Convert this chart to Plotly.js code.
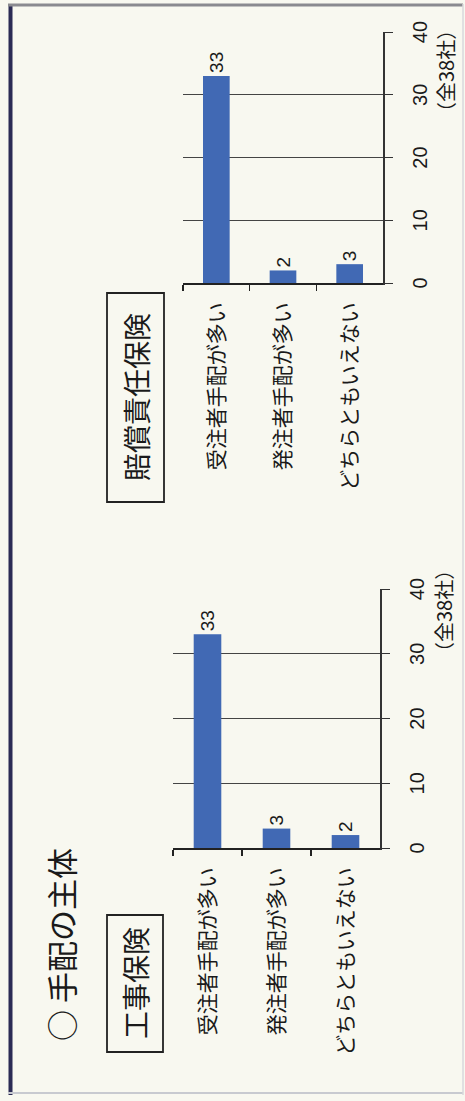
<!DOCTYPE html>
<html>
<head>
<meta charset="utf-8">
<script src="https://cdn.plot.ly/plotly-3.0.1.min.js"></script>
<style>
html,body{margin:0;padding:0;width:465px;height:1101px;overflow:hidden;background:#f8f8f0;}
#wrap{position:absolute;left:0;top:1101px;width:1101px;height:465px;transform-origin:0 0;transform:rotate(-90deg);}
</style>
</head>
<body>
<div id="wrap"></div>
<script>
const categories = ["受注者手配が多い", "発注者手配が多い", "どちらともいえない"];
const constructionValues = [33, 3, 2];
const liabilityValues = [33, 2, 3];
const tickValues = [0, 10, 20, 30, 40];
const mainTitle = "○ 手配の主体";
const leftTitle = "工事保険";
const rightTitle = "賠償責任保険";
const unitLabel = "（全38社）";

const W = 1101, H = 465;
const px = X => X / W;
const py = Y => 1 - Y / H;

const fontFam = "Liberation Sans, Noto Sans CJK JP, sans-serif";
const jpFam = "Noto Sans CJK JP, sans-serif";
const barColor = "#4169b4";
const ink = "#1a1a1a";

const traces = [
  {type:"bar", orientation:"h", y:categories, x:constructionValues, xaxis:"x", yaxis:"y",
   marker:{color:barColor}, text:constructionValues.map(String), textposition:"outside",
   textfont:{family:fontFam, size:19, color:ink}, cliponaxis:false, hoverinfo:"none"},
  {type:"bar", orientation:"h", y:categories, x:liabilityValues, xaxis:"x2", yaxis:"y2",
   marker:{color:barColor}, text:liabilityValues.map(String), textposition:"outside",
   textfont:{family:fontFam, size:19, color:ink}, cliponaxis:false, hoverinfo:"none"}
];

function valAxis(domain, anchor){
  return {domain:domain, anchor:anchor, range:[0,40], tickvals:tickValues, ticktext:tickValues.map(String),
    showgrid:true, gridcolor:"#444", gridwidth:1.2, zeroline:false,
    showline:true, linecolor:"#333", linewidth:1.5, ticks:"outside", ticklen:8, tickcolor:"#333",
    tickfont:{family:fontFam, size:20, color:ink}, ticklabelstandoff:10, fixedrange:true};
}
function catAxis(domain, anchor){
  return {domain:domain, anchor:anchor, autorange:"reversed", type:"category",
    showgrid:false, zeroline:false, showline:true, linecolor:"#222", linewidth:2,
    ticks:"outside", ticklen:6, tickcolor:"#222", tickwidth:1.5, tickson:"boundaries",
    tickfont:{family:jpFam, size:21, color:ink}, ticklabelstandoff:13, fixedrange:true};
}

const layout = {
  width:W, height:H, margin:{l:0,r:0,t:0,b:0},
  paper_bgcolor:"#f8f8f0", plot_bgcolor:"rgba(0,0,0,0)",
  showlegend:false, bargap:0.6,
  xaxis: valAxis([px(253), px(512)], "y"),
  yaxis: catAxis([py(380), py(173)], "x"),
  xaxis2: valAxis([px(818), px(1069)], "y2"),
  yaxis2: catAxis([py(383), py(183)], "x2"),
  shapes:[
    {type:"line", xref:"paper", yref:"paper", x0:px(6), x1:px(1097), y0:py(10.5), y1:py(10.5), line:{color:"#2b2b55", width:4}},
    {type:"line", xref:"paper", yref:"paper", x0:px(1096), x1:px(1096), y0:py(8), y1:py(463), line:{color:"#8a8a90", width:3}},
    {type:"line", xref:"paper", yref:"paper", x0:px(8), x1:px(8), y0:py(8), y1:py(463), line:{color:"#c8cad0", width:2}},
    {type:"line", xref:"paper", yref:"paper", x0:px(6), x1:px(1097), y0:py(463), y1:py(463), line:{color:"#d8d8dc", width:1.5}},
    {type:"rect", xref:"paper", yref:"paper", x0:px(49), x1:px(186), y0:py(163), y1:py(107), line:{color:"#222", width:1.8}},
    {type:"rect", xref:"paper", yref:"paper", x0:px(599), x1:px(808), y0:py(164), y1:py(107), line:{color:"#222", width:1.8}}
  ],
  annotations:[
    {xref:"paper", yref:"paper", x:px(58), y:py(60), xanchor:"left", yanchor:"middle", showarrow:false,
     text:mainTitle, font:{family:jpFam, size:31, color:ink}},
    {xref:"paper", yref:"paper", x:px(117.5), y:py(135), xanchor:"center", yanchor:"middle", showarrow:false,
     text:leftTitle, font:{family:jpFam, size:28, color:ink}},
    {xref:"paper", yref:"paper", x:px(703.5), y:py(135.5), xanchor:"center", yanchor:"middle", showarrow:false,
     text:rightTitle, font:{family:jpFam, size:28, color:ink}},
    {xref:"paper", yref:"paper", x:px(490), y:py(443), xanchor:"center", yanchor:"middle", showarrow:false,
     text:unitLabel, font:{family:jpFam, size:20, color:ink}},
    {xref:"paper", yref:"paper", x:px(1030), y:py(445), xanchor:"center", yanchor:"middle", showarrow:false,
     text:unitLabel, font:{family:jpFam, size:20, color:ink}}
  ]
};

Plotly.newPlot("wrap", traces, layout, {staticPlot:true, displayModeBar:false});
</script>
</body>
</html>
